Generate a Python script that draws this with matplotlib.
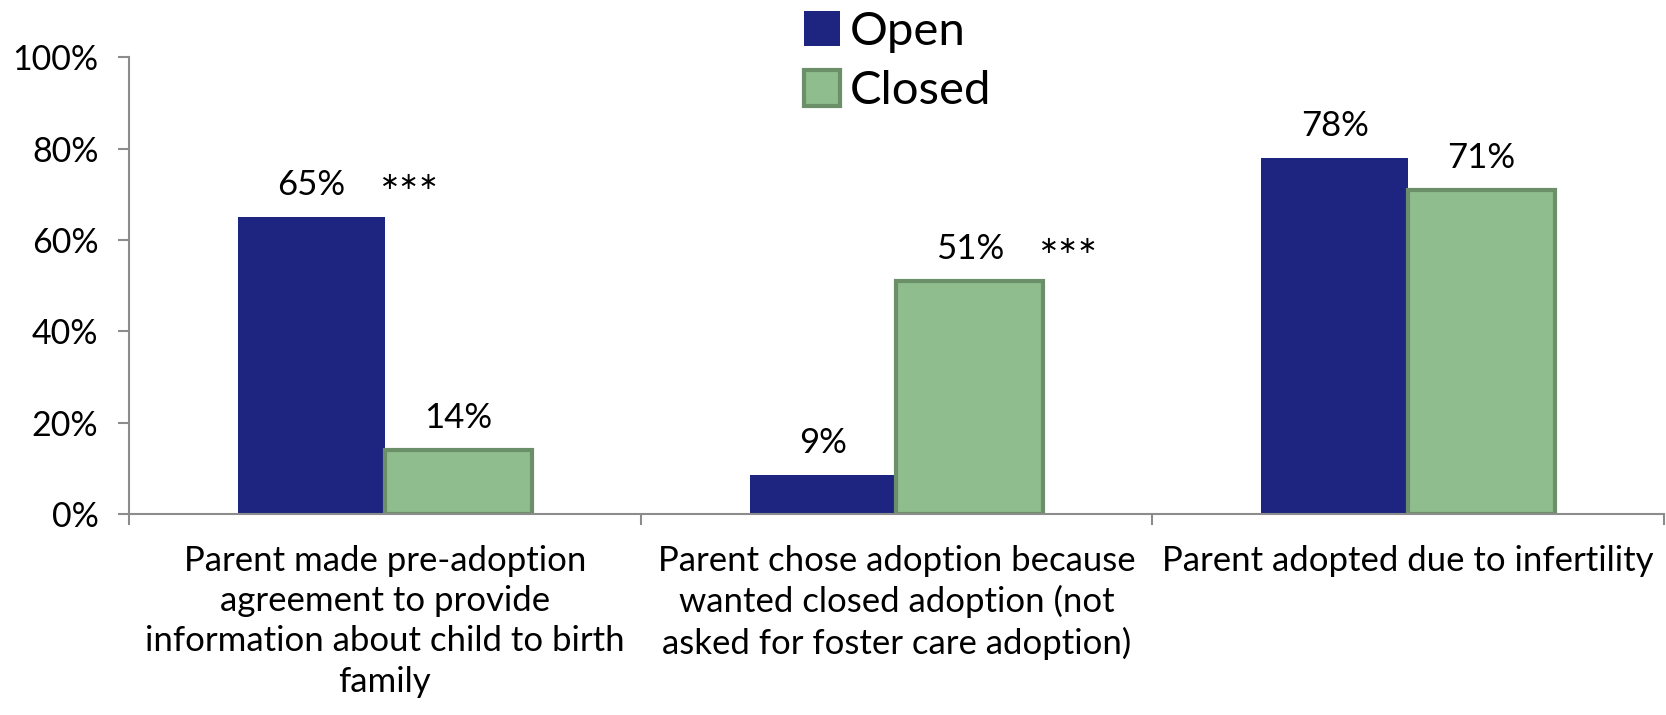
import matplotlib
matplotlib.use("Agg")
import matplotlib.pyplot as plt
import numpy as np

plt.rcParams["font.family"] = ["Lato", "DejaVu Sans"]

categories = [
    "Parent made pre-adoption\nagreement to provide\ninformation about child to birth\nfamily",
    "Parent chose adoption because\nwanted closed adoption (not\nasked for foster care adoption)",
    "Parent adopted due to infertility",
]
open_vals = [0.65, 0.085, 0.78]
closed_vals = [0.14, 0.51, 0.71]
open_labels = ["65%", "9%", "78%"]
closed_labels = ["14%", "51%", "71%"]
signif = ["***", "***", ""]   # shown next to the taller bar's label

OPEN_C = "#1D2580"
CLOSED_C = "#8FBD8D"
CLOSED_EDGE = "#6A8F69"
AXIS_C = "#8C8C8C"

fig = plt.figure(figsize=(16.66, 7.15), dpi=100)
ax = fig.add_axes([0.0774, 0.281, 0.9214, 0.639])

x = np.arange(len(categories))
w = 0.287
b1 = ax.bar(x - w / 2, open_vals, w, color=OPEN_C, label="Open", zorder=2)
b2 = ax.bar(x + w / 2, closed_vals, w, color=CLOSED_C, edgecolor=CLOSED_EDGE,
            linewidth=3, label="Closed", zorder=2)

# value labels
for bars, labels in ((b1, open_labels), (b2, closed_labels)):
    for bar, lab in zip(bars, labels):
        ax.text(bar.get_x() + bar.get_width() / 2, bar.get_height() + 0.035, lab,
                ha="center", va="bottom", fontsize=25)

# significance stars, right of the taller bar's label
for i, s in enumerate(signif):
    if not s:
        continue
    if open_vals[i] >= closed_vals[i]:
        cx, top = x[i] - w / 2, open_vals[i]
    else:
        cx, top = x[i] + w / 2, closed_vals[i]
    ax.text(cx + 0.135, top + 0.05, "∗∗∗", ha="left", va="bottom",
            fontsize=17, family="DejaVu Sans")

ax.set_xlim(-0.5, 2.5)
ax.set_ylim(0, 1.0)
yt = np.arange(0, 1.01, 0.2)
ax.set_yticks(yt)
ax.set_yticklabels([f"{int(round(v * 100))}%" for v in yt], fontsize=24.5)
ax.set_xticks(x)
ax.set_xticklabels(categories, fontsize=25, linespacing=1.32)
ax.set_xticks(np.arange(-0.5, 2.6, 1.0), minor=True)
ax.tick_params(axis="x", which="major", length=0, pad=22)
ax.tick_params(axis="x", which="minor", length=8, color=AXIS_C, width=1.5)
ax.tick_params(axis="y", length=8, color=AXIS_C, width=1.5, pad=14)

for side in ("top", "right"):
    ax.spines[side].set_visible(False)
for side in ("left", "bottom"):
    ax.spines[side].set_color(AXIS_C)
    ax.spines[side].set_linewidth(1.5)

fig.legend(handles=[b1, b2], labels=["Open", "Closed"], loc="upper left",
           bbox_to_anchor=(0.4625, 1.031), frameon=False, fontsize=34,
           handlelength=0.78, handleheight=0.78, handletextpad=0.2,
           labelspacing=0.36, borderpad=0.2)

fig.savefig("out.png", dpi=100)
